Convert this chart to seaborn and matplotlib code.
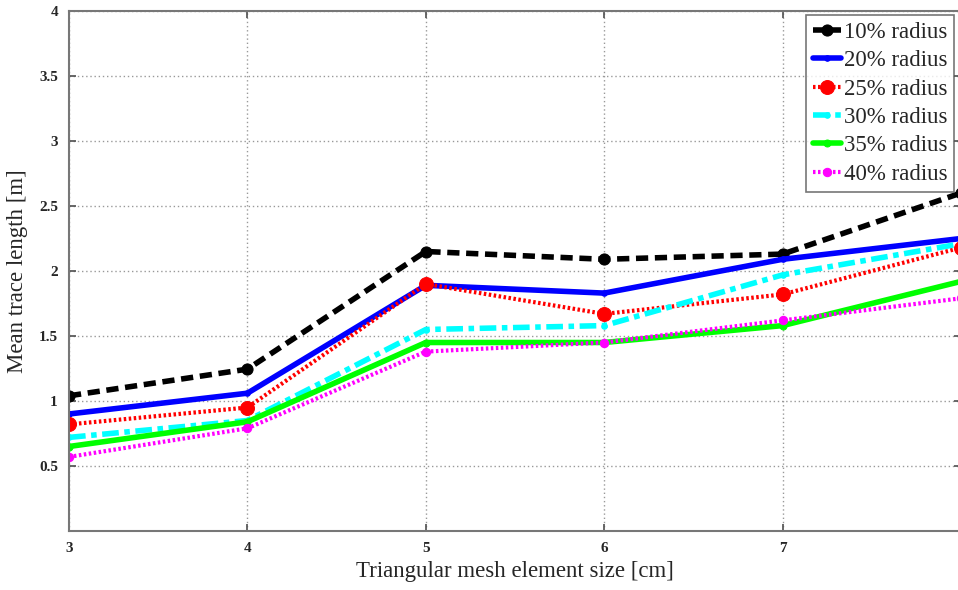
import matplotlib
matplotlib.use("Agg")
import matplotlib.pyplot as plt
import seaborn as sns
import pandas as pd

sizes = [3, 4, 5, 6, 7, 8]
xtick_labels = ["3", "4", "5", "6", "7", ""]
labels = ["10% radius", "20% radius", "25% radius", "30% radius", "35% radius", "40% radius"]
r10 = [1.04, 1.245, 2.15, 2.09, 2.13, 2.60]
r20 = [0.90, 1.06, 1.89, 1.83, 2.09, 2.25]
r25 = [0.82, 0.95, 1.90, 1.67, 1.82, 2.18]
r30 = [0.72, 0.85, 1.55, 1.58, 1.97, 2.21]
r35 = [0.65, 0.84, 1.45, 1.45, 1.58, 1.92]
r40 = [0.57, 0.79, 1.38, 1.45, 1.62, 1.79]
series = [r10, r20, r25, r30, r35, r40]
yticks = [0.5, 1, 1.5, 2, 2.5, 3, 3.5, 4]
ytick_labels = ["0.5", "1", "1.5", "2", "2.5", "3", "3.5", "4"]

sns.set_theme(style="white")
plt.rcParams['font.family'] = ['Liberation Serif', 'DejaVu Serif']

styles = [
    dict(color="black", linestyle=(0, (2.2, 1.2)), marker="o", markersize=8, linewidth=4, mec="black"),
    dict(color="#0000ff", linestyle="-", marker="o", markersize=4, linewidth=4, mec="#0000ff"),
    dict(color="#ff0000", linestyle=(0, (0.6, 0.6)), marker="o", markersize=10, linewidth=3, mec="#ff0000"),
    dict(color="#00ffff", linestyle=(0, (3, 1, 1, 1)), marker="o", markersize=4, linewidth=4, mec="#00ffff"),
    dict(color="#00ff00", linestyle="-", marker="o", markersize=5, linewidth=4, mec="#00ff00"),
    dict(color="#ff00ff", linestyle=(0, (0.6, 0.6)), marker="o", markersize=6, linewidth=3, mec="#ff00ff"),
]

fig = plt.figure(figsize=(9.58, 5.9), dpi=100)
ax = fig.add_axes([69/958, 59/590, (961-69)/958, 520/590])

for lab, vals, st in zip(labels, series, styles):
    df = pd.DataFrame({"size": sizes, "len": vals})
    sns.lineplot(data=df, x="size", y="len", ax=ax, label=lab, **st)

ax.set_xlim(3, 8)
ax.set_ylim(0, 4)
ax.set_xticks(sizes)
ax.set_xticklabels(xtick_labels)
ax.set_yticks(yticks)
ax.set_yticklabels(ytick_labels)
ax.tick_params(axis="both", direction="in", length=5, labelsize=11, color="#555555",
               right=True, top=True, left=True, bottom=True, pad=8)
for t in ax.get_xticklabels() + ax.get_yticklabels():
    t.set_fontweight("bold")
ax.grid(True, linestyle=(0, (1, 2)), color="#999999", linewidth=1)
for sp in ax.spines.values():
    sp.set_color("#777777")
    sp.set_linewidth(1.5)
ax.set_xlabel("Triangular mesh element size [cm]", fontsize=16.5)
ax.set_ylabel("Mean trace length [m]", fontsize=16.5)
ax.xaxis.set_label_coords(0.5, -41/520)
ax.xaxis.label.set_va("center")
ax.yaxis.set_label_coords(-51/892, 0.5)
ax.yaxis.label.set_va("center")

leg = ax.legend(loc="upper right", bbox_to_anchor=((954-69)/892, (531-15)/520),
                bbox_transform=ax.transAxes, fontsize=16.5,
                handlelength=1.25, handletextpad=0.1, borderpad=0.3, labelspacing=0.32,
                frameon=True, fancybox=False, borderaxespad=0.0)
leg.get_frame().set_edgecolor("#555555")
leg.get_frame().set_linewidth(1.2)

fig.savefig("out.png", dpi=100)
